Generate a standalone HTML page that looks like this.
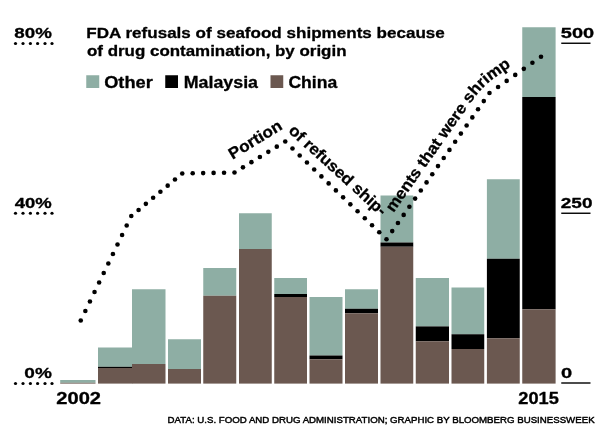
<!DOCTYPE html>
<html><head><meta charset="utf-8"><style>
html,body{margin:0;padding:0;background:#fff;}
svg{display:block;font-family:"Liberation Sans",sans-serif;will-change:transform;}
text{stroke:#000;stroke-width:0.3px;stroke-linejoin:round;}
</style></head><body>
<svg width="600" height="428" viewBox="0 0 600 428">
<rect width="600" height="428" fill="#fff"/>
<rect x="60.20" y="380.00" width="35.30" height="2.80" fill="#8eaea4"/>
<rect x="60.20" y="382.80" width="35.30" height="0.80" fill="#6b5850"/>
<rect x="98.00" y="347.50" width="34.30" height="19.30" fill="#8eaea4"/>
<rect x="98.00" y="366.80" width="34.30" height="1.20" fill="#000"/>
<rect x="98.00" y="368.00" width="34.30" height="15.60" fill="#6b5850"/>
<rect x="132.00" y="289.25" width="33.50" height="74.75" fill="#8eaea4"/>
<rect x="132.00" y="364.00" width="33.50" height="19.60" fill="#6b5850"/>
<rect x="168.00" y="339.25" width="33.00" height="29.75" fill="#8eaea4"/>
<rect x="168.00" y="369.00" width="33.00" height="14.60" fill="#6b5850"/>
<rect x="203.25" y="268.00" width="33.00" height="27.75" fill="#8eaea4"/>
<rect x="203.25" y="295.75" width="33.00" height="87.85" fill="#6b5850"/>
<rect x="239.00" y="213.25" width="32.75" height="35.75" fill="#8eaea4"/>
<rect x="239.00" y="249.00" width="32.75" height="134.60" fill="#6b5850"/>
<rect x="274.25" y="278.00" width="32.75" height="16.00" fill="#8eaea4"/>
<rect x="274.25" y="294.00" width="32.75" height="3.00" fill="#000"/>
<rect x="274.25" y="297.00" width="32.75" height="86.60" fill="#6b5850"/>
<rect x="309.50" y="297.00" width="33.00" height="58.50" fill="#8eaea4"/>
<rect x="309.50" y="355.50" width="33.00" height="3.75" fill="#000"/>
<rect x="309.50" y="359.25" width="33.00" height="24.35" fill="#6b5850"/>
<rect x="345.00" y="289.25" width="33.00" height="19.50" fill="#8eaea4"/>
<rect x="345.00" y="308.75" width="33.00" height="4.50" fill="#000"/>
<rect x="345.00" y="313.25" width="33.00" height="70.35" fill="#6b5850"/>
<rect x="380.50" y="195.50" width="32.75" height="47.00" fill="#8eaea4"/>
<rect x="380.50" y="242.50" width="32.75" height="4.25" fill="#000"/>
<rect x="380.50" y="246.75" width="32.75" height="136.85" fill="#6b5850"/>
<rect x="415.75" y="278.00" width="33.25" height="48.40" fill="#8eaea4"/>
<rect x="415.75" y="326.40" width="33.25" height="14.85" fill="#000"/>
<rect x="415.75" y="341.25" width="33.25" height="42.35" fill="#6b5850"/>
<rect x="451.50" y="287.50" width="32.75" height="46.75" fill="#8eaea4"/>
<rect x="451.50" y="334.25" width="32.75" height="14.75" fill="#000"/>
<rect x="451.50" y="349.00" width="32.75" height="34.60" fill="#6b5850"/>
<rect x="486.90" y="179.25" width="32.85" height="79.50" fill="#8eaea4"/>
<rect x="486.90" y="258.75" width="32.85" height="79.50" fill="#000"/>
<rect x="486.90" y="338.25" width="32.85" height="45.35" fill="#6b5850"/>
<rect x="522.25" y="27.25" width="33.35" height="69.75" fill="#8eaea4"/>
<rect x="522.25" y="97.00" width="33.35" height="212.25" fill="#000"/>
<rect x="522.25" y="309.25" width="33.35" height="74.35" fill="#6b5850"/>
<circle cx="80.75" cy="320.50" r="2.3"/>
<circle cx="85.35" cy="311.00" r="2.3"/>
<circle cx="89.94" cy="301.50" r="2.3"/>
<circle cx="94.54" cy="292.00" r="2.3"/>
<circle cx="99.13" cy="282.50" r="2.3"/>
<circle cx="103.73" cy="273.00" r="2.3"/>
<circle cx="108.32" cy="263.50" r="2.3"/>
<circle cx="112.92" cy="254.00" r="2.3"/>
<circle cx="117.51" cy="244.50" r="2.3"/>
<circle cx="122.11" cy="235.00" r="2.3"/>
<circle cx="126.70" cy="225.50" r="2.3"/>
<circle cx="131.30" cy="216.00" r="2.3"/>
<circle cx="138.58" cy="209.93" r="2.3"/>
<circle cx="145.86" cy="203.86" r="2.3"/>
<circle cx="153.14" cy="197.79" r="2.3"/>
<circle cx="160.41" cy="191.71" r="2.3"/>
<circle cx="167.69" cy="185.64" r="2.3"/>
<circle cx="174.97" cy="179.57" r="2.3"/>
<circle cx="182.25" cy="173.50" r="2.3"/>
<circle cx="192.70" cy="173.30" r="2.3"/>
<circle cx="203.15" cy="173.10" r="2.3"/>
<circle cx="213.60" cy="172.90" r="2.3"/>
<circle cx="224.05" cy="172.70" r="2.3"/>
<circle cx="234.50" cy="172.50" r="2.3"/>
<circle cx="242.96" cy="167.33" r="2.3"/>
<circle cx="251.42" cy="162.17" r="2.3"/>
<circle cx="259.88" cy="157.00" r="2.3"/>
<circle cx="268.33" cy="151.83" r="2.3"/>
<circle cx="276.79" cy="146.67" r="2.3"/>
<circle cx="285.25" cy="141.50" r="2.3"/>
<circle cx="292.48" cy="148.48" r="2.3"/>
<circle cx="299.71" cy="155.46" r="2.3"/>
<circle cx="306.95" cy="162.45" r="2.3"/>
<circle cx="314.18" cy="169.43" r="2.3"/>
<circle cx="321.41" cy="176.41" r="2.3"/>
<circle cx="328.64" cy="183.39" r="2.3"/>
<circle cx="335.88" cy="190.38" r="2.3"/>
<circle cx="343.11" cy="197.36" r="2.3"/>
<circle cx="350.34" cy="204.34" r="2.3"/>
<circle cx="357.57" cy="211.32" r="2.3"/>
<circle cx="364.80" cy="218.30" r="2.3"/>
<circle cx="372.04" cy="225.29" r="2.3"/>
<circle cx="379.27" cy="232.27" r="2.3"/>
<circle cx="386.50" cy="239.25" r="2.3"/>
<circle cx="392.22" cy="231.12" r="2.3"/>
<circle cx="397.94" cy="223.00" r="2.3"/>
<circle cx="403.67" cy="214.88" r="2.3"/>
<circle cx="409.39" cy="206.75" r="2.3"/>
<circle cx="415.11" cy="198.62" r="2.3"/>
<circle cx="420.83" cy="190.50" r="2.3"/>
<circle cx="426.56" cy="182.38" r="2.3"/>
<circle cx="432.28" cy="174.25" r="2.3"/>
<circle cx="438.00" cy="166.12" r="2.3"/>
<circle cx="443.72" cy="158.00" r="2.3"/>
<circle cx="449.44" cy="149.88" r="2.3"/>
<circle cx="455.17" cy="141.75" r="2.3"/>
<circle cx="460.89" cy="133.62" r="2.3"/>
<circle cx="466.61" cy="125.50" r="2.3"/>
<circle cx="472.33" cy="117.38" r="2.3"/>
<circle cx="478.06" cy="109.25" r="2.3"/>
<circle cx="483.78" cy="101.12" r="2.3"/>
<circle cx="489.50" cy="93.00" r="2.3"/>
<circle cx="498.08" cy="86.96" r="2.3"/>
<circle cx="506.67" cy="80.92" r="2.3"/>
<circle cx="515.25" cy="74.88" r="2.3"/>
<circle cx="523.83" cy="68.83" r="2.3"/>
<circle cx="532.42" cy="62.79" r="2.3"/>
<circle cx="541.00" cy="56.75" r="2.3"/>
<circle cx="15.5" cy="43.5" r="1.6"/>
<circle cx="23" cy="43.5" r="1.6"/>
<circle cx="30.4" cy="43.5" r="1.6"/>
<circle cx="37.6" cy="43.5" r="1.6"/>
<circle cx="45" cy="43.5" r="1.6"/>
<circle cx="52" cy="43.5" r="1.6"/>
<circle cx="15.5" cy="213.25" r="1.6"/>
<circle cx="23" cy="213.25" r="1.6"/>
<circle cx="30.4" cy="213.25" r="1.6"/>
<circle cx="37.6" cy="213.25" r="1.6"/>
<circle cx="45" cy="213.25" r="1.6"/>
<circle cx="52" cy="213.25" r="1.6"/>
<circle cx="15.5" cy="383.5" r="1.6"/>
<circle cx="23" cy="383.5" r="1.6"/>
<circle cx="30.4" cy="383.5" r="1.6"/>
<circle cx="37.6" cy="383.5" r="1.6"/>
<circle cx="45" cy="383.5" r="1.6"/>
<circle cx="52" cy="383.5" r="1.6"/>
<rect x="561.25" y="42.55" width="29.25" height="1.4"/>
<rect x="561.25" y="212.55" width="29.25" height="1.4"/>
<rect x="561.25" y="382.3" width="29.25" height="1.4"/>
<text x="14.3" y="38" font-size="15.4" font-weight="bold" text-anchor="start" textLength="37.5" lengthAdjust="spacingAndGlyphs">80%</text>
<text x="14.8" y="207.5" font-size="15.4" font-weight="bold" text-anchor="start" textLength="37" lengthAdjust="spacingAndGlyphs">40%</text>
<text x="24.3" y="377.75" font-size="15.4" font-weight="bold" text-anchor="start" textLength="27.5" lengthAdjust="spacingAndGlyphs">0%</text>
<text x="560.8" y="37.5" font-size="15.4" font-weight="bold" text-anchor="start" textLength="33.4" lengthAdjust="spacingAndGlyphs">500</text>
<text x="560.8" y="208" font-size="15.4" font-weight="bold" text-anchor="start" textLength="31.7" lengthAdjust="spacingAndGlyphs">250</text>
<text x="561.0" y="377.75" font-size="15.4" font-weight="bold" text-anchor="start" textLength="11.2" lengthAdjust="spacingAndGlyphs">0</text>
<text x="56.3" y="403.5" font-size="15.9" font-weight="bold" text-anchor="start" textLength="44.7" lengthAdjust="spacingAndGlyphs">2002</text>
<text x="518.3" y="403.5" font-size="15.9" font-weight="bold" text-anchor="start" textLength="40.5" lengthAdjust="spacingAndGlyphs">2015</text>
<text x="86.3" y="37.5" font-size="15.4" font-weight="bold" text-anchor="start" textLength="358.5" lengthAdjust="spacingAndGlyphs">FDA refusals of seafood shipments because</text>
<text x="87" y="55.75" font-size="15.4" font-weight="bold" text-anchor="start" textLength="259.5" lengthAdjust="spacingAndGlyphs">of drug contamination, by origin</text>
<rect x="86.25" y="75.25" width="13.00" height="12.75" fill="#8eaea4"/>
<rect x="165.25" y="75.25" width="12.75" height="12.75" fill="#000"/>
<rect x="270.50" y="75.25" width="12.75" height="12.75" fill="#6b5850"/>
<text x="104.2" y="87.5" font-size="15.9" font-weight="bold" text-anchor="start" textLength="48.6" lengthAdjust="spacingAndGlyphs">Other</text>
<text x="183.8" y="87.5" font-size="15.9" font-weight="bold" text-anchor="start" textLength="74.2" lengthAdjust="spacingAndGlyphs">Malaysia</text>
<text x="288.4" y="87.5" font-size="15.9" font-weight="bold" text-anchor="start" textLength="48.8" lengthAdjust="spacingAndGlyphs">China</text>
<text x="167.6" y="422.9" font-size="9.8" font-weight="normal" text-anchor="start" textLength="427" lengthAdjust="spacingAndGlyphs" style="stroke-width:0.45px">DATA: U.S. FOOD AND DRUG ADMINISTRATION; GRAPHIC BY BLOOMBERG BUSINESSWEEK</text>
<path id="p1" d="M232.51,159.65 l76.80,-46.92" fill="none"/>
<text font-size="16" font-weight="bold"><textPath href="#p1" startOffset="0" textLength="59.5" lengthAdjust="spacingAndGlyphs">Portion</textPath></text>
<path id="p2" d="M287.63,131.84 l118.36,107.67" fill="none"/>
<text font-size="16" font-weight="bold"><textPath href="#p2" startOffset="0" textLength="126" lengthAdjust="spacingAndGlyphs">of refused ship-</textPath></text>
<path id="p3" d="M378.73,233.78 L473.47,99.26 Q482.68,86.18 495.77,76.97 L560.06,31.71" fill="none"/>
<text font-size="16" font-weight="bold"><textPath href="#p3" startOffset="25.5" textLength="189.5" lengthAdjust="spacingAndGlyphs">ments that were shrimp</textPath></text>
</svg>
</body></html>
